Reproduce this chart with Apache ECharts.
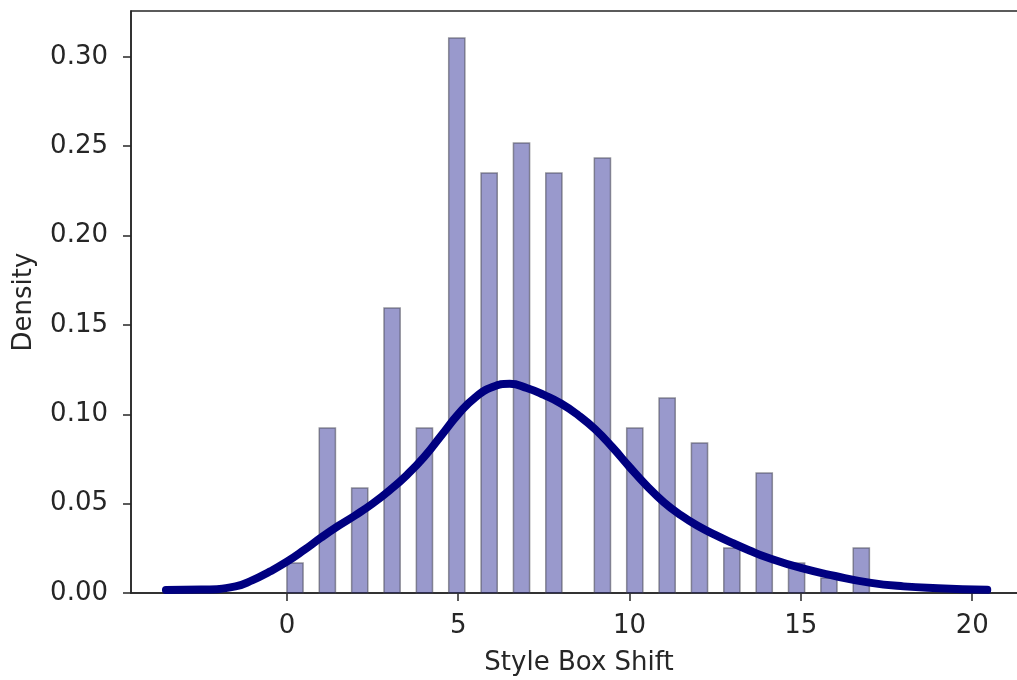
<!DOCTYPE html>
<html>
<head>
<meta charset="utf-8">
<script src="https://cdn.jsdelivr.net/npm/echarts@6/dist/echarts.min.js"></script>
<style>
  html, body { margin: 0; padding: 0; background: #ffffff; }
  #chart { width: 1017px; height: 680px; }
</style>
</head>
<body>
<div id="chart"></div>
<script>
// Histogram bins: left edge, right edge and density height of each occupied bin
const binLeft  = [0.0000, 0.9444, 1.8889, 2.8333, 3.7778, 4.7222, 5.6667, 6.6111, 7.5556,
                  8.9722, 9.9167, 10.8611, 11.8056, 12.7500, 13.6944, 14.6389, 15.5833, 16.5278];
const binRight = [0.4722, 1.4167, 2.3611, 3.3056, 4.2500, 5.1944, 6.1389, 7.0833, 8.0278,
                  9.4444, 10.3889, 11.3333, 12.2778, 13.2222, 14.1667, 15.1111, 16.0556, 17.0000];
const density  = [0.0168, 0.0923, 0.0587, 0.1594, 0.0923, 0.3105, 0.2349, 0.2517, 0.2349,
                  0.2433, 0.0923, 0.1091, 0.0839, 0.0252, 0.0671, 0.0168, 0.0084, 0.0252];

// Kernel density estimate curve
const kdeX = [-3.53, -2.5, -1.5, -1.0, -0.5, 0.0, 0.5, 1.0, 1.5, 2.0, 2.5, 3.0, 3.5, 4.0,
              4.5, 5.0, 5.5, 6.0, 6.5, 7.0, 7.5, 8.0, 8.5, 9.0, 9.5, 10.0, 10.5, 11.0,
              11.5, 12.0, 12.5, 13.0, 13.5, 14.0, 15.0, 16.0, 17.0, 18.0, 19.0, 20.44];
const kdeY = [0.0017, 0.0019, 0.0037, 0.0072, 0.0120, 0.0175, 0.0240, 0.0310, 0.0375, 0.0435,
              0.0500, 0.0575, 0.0660, 0.0760, 0.0880, 0.1000, 0.1095, 0.1152, 0.1170, 0.1147,
              0.1108, 0.1060, 0.0995, 0.0915, 0.0815, 0.0705, 0.0600, 0.0508, 0.0435, 0.0375,
              0.0325, 0.0280, 0.0238, 0.0200, 0.0140, 0.0095, 0.0058, 0.0037, 0.0027, 0.0018];

const xTicks = [0, 5, 10, 15, 20];
const yTicks = [0, 0.05, 0.10, 0.15, 0.20, 0.25, 0.30];

const histData = binLeft.map((l, i) => [l, binRight[i], density[i]]);
const kdeData = kdeX.map((x, i) => [x, kdeY[i]]);

const axisColor = '#262626';
const textColor = '#262626';
const font = 'DejaVu Sans';
const fontSize = 26;

const chart = echarts.init(document.getElementById('chart'), null, { renderer: 'canvas' });
chart.setOption({
  animation: false,
  backgroundColor: '#ffffff',
  textStyle: { fontFamily: font, color: textColor },
  grid: {
    left: 131, top: 11, width: 896, height: 582,
    outerBoundsMode: 'none',
    containLabel: false,
    show: true, borderColor: axisColor, borderWidth: 1.5, backgroundColor: 'transparent'
  },
  xAxis: {
    type: 'value',
    min: -4.55, max: 21.6,
    name: 'Style Box Shift',
    nameLocation: 'middle',
    nameGap: 57,
    nameTextStyle: { fontFamily: font, fontSize: fontSize, color: textColor },
    axisLine: { show: true, onZero: false, lineStyle: { color: axisColor, width: 1.5 } },
    axisTick: { show: true, customValues: xTicks, length: 8, inside: false,
                lineStyle: { color: axisColor, width: 1.5 } },
    axisLabel: { customValues: xTicks, margin: 20, fontFamily: font, fontSize: fontSize,
                 color: textColor, formatter: v => String(v) },
    splitLine: { show: false }
  },
  yAxis: {
    type: 'value',
    min: 0, max: 0.3256,
    name: 'Density',
    nameLocation: 'middle',
    nameGap: 94,
    nameTextStyle: { fontFamily: font, fontSize: fontSize, color: textColor },
    axisLine: { show: true, onZero: false, lineStyle: { color: axisColor, width: 1.5 } },
    axisTick: { show: true, customValues: yTicks, length: 8, inside: false,
                lineStyle: { color: axisColor, width: 1.5 } },
    axisLabel: { customValues: yTicks, margin: 23, fontFamily: font, fontSize: fontSize,
                 color: textColor, formatter: v => v.toFixed(2) },
    splitLine: { show: false }
  },
  series: [
    {
      type: 'custom',
      name: 'histogram',
      data: histData,
      encode: { x: [0, 1], y: 2 },
      renderItem: function (params, api) {
        const topLeft = api.coord([api.value(0), api.value(2)]);
        const bottomRight = api.coord([api.value(1), 0]);
        return {
          type: 'rect',
          shape: {
            x: topLeft[0], y: topLeft[1],
            width: bottomRight[0] - topLeft[0],
            height: bottomRight[1] - topLeft[1]
          },
          style: { fill: 'rgba(0,0,128,0.4)', stroke: 'rgba(70,70,80,0.55)', lineWidth: 1.5 }
        };
      },
      z: 2
    },
    {
      type: 'line',
      name: 'kde',
      data: kdeData,
      smooth: 0.5,
      showSymbol: false,
      lineStyle: { color: '#000080', width: 8, cap: 'round', join: 'round' },
      z: 3
    }
  ]
});
</script>
</body>
</html>
